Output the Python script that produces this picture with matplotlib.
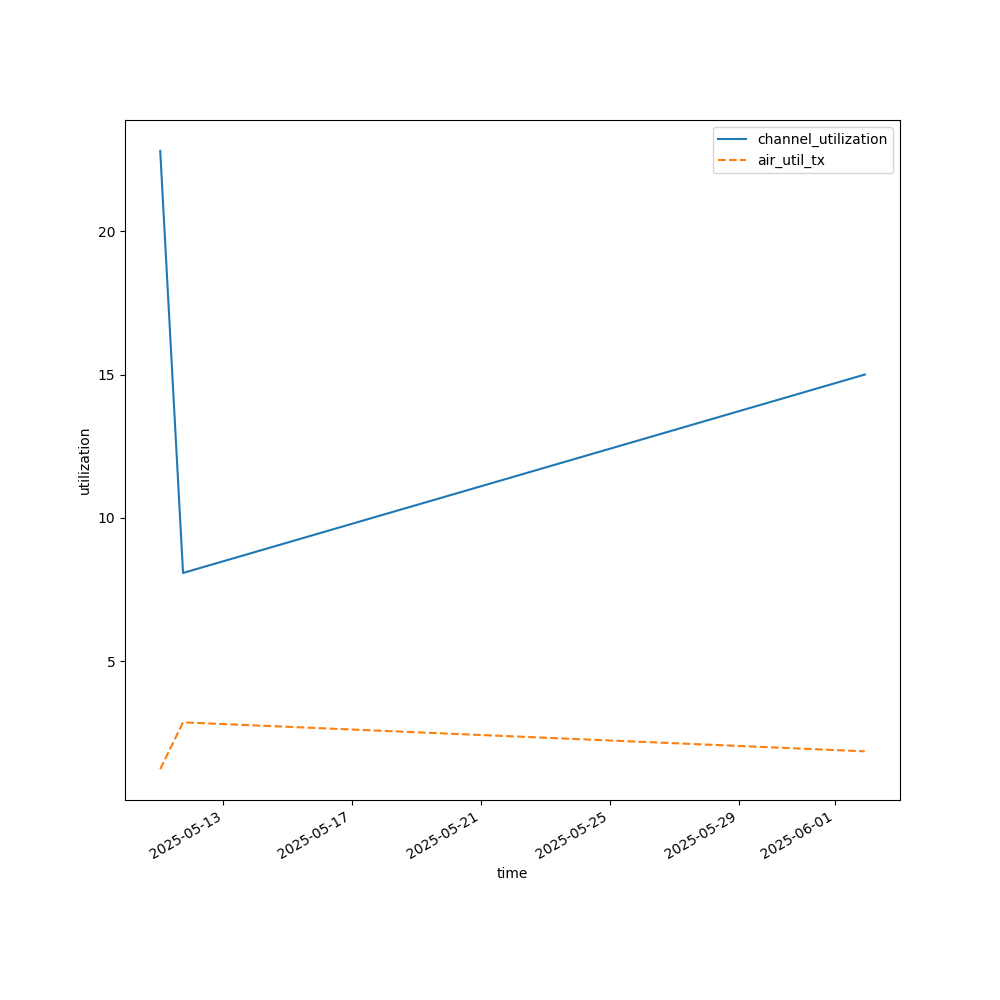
import matplotlib
matplotlib.use("Agg")
import matplotlib.pyplot as plt
import pandas as pd

times = pd.to_datetime(["2025-05-11 01:00", "2025-05-11 18:00", "2025-06-01 22:00"])
channel_utilization = [22.80, 8.08, 15.0]
air_util_tx = [1.24, 2.87, 1.86]

fig, ax = plt.subplots(figsize=(10, 10), dpi=100)
ax.plot(times, channel_utilization, label="channel_utilization", color="#1f77b4")
ax.plot(times, air_util_tx, label="air_util_tx", color="#ff7f0e", linestyle="--")
ax.set_xlabel("time")
ax.set_ylabel("utilization")
ax.legend(loc="upper right")
fig.autofmt_xdate()
fig.savefig("out.png")
